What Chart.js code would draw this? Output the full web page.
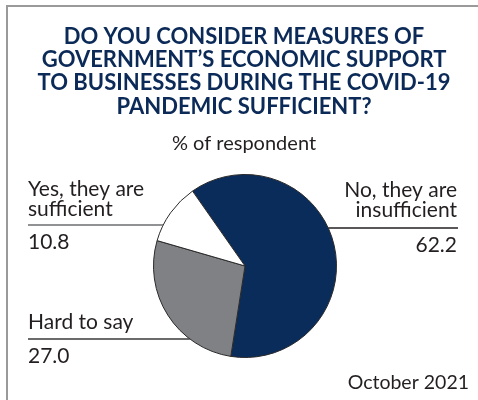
<!DOCTYPE html>
<html>
<head>
<meta charset="utf-8">
<script src="https://cdn.jsdelivr.net/npm/chart.js@4"></script>
<style>
  html, body { margin: 0; padding: 0; background: #ffffff; }
  #wrap { position: relative; width: 478px; height: 400px; }
</style>
</head>
<body>
<div id="wrap"><canvas id="c" width="478" height="400"></canvas></div>
<script>
// ---- Data ----
const categories = ["No, they are insufficient", "Hard to say", "Yes, they are sufficient"];
const values = [62.2, 27.0, 10.8];
const labelLines = [["No, they are", "insufficient"], ["Hard to say"], ["Yes, they are", "sufficient"]];
const valueLabels = ["62.2", "27.0", "10.8"];
const titleLines = ["DO YOU CONSIDER MEASURES OF", "GOVERNMENT\u2019S ECONOMIC SUPPORT", "TO BUSINESSES DURING THE COVID-19", "PANDEMIC SUFFICIENT?"];
const subtitleText = "% of respondent";
const footnoteText = "October 2021";

const colors = ["#0a2c5b", "#808184", "#ffffff"];
const TEXT = "#231f20";
const NAVY = "#0b2a57";

// label placement: side, baseline of first line, y of leader line, baseline of value
const labelLayout = [
  { side: "right", x: 457, y0: 197, lineY: 228, vy: 252, line: "#231f20" },
  { side: "left",  x: 28,  y0: 329, lineY: 339, vy: 363, line: "#3a3a3a" },
  { side: "left",  x: 28,  y0: 196, lineY: 225, vy: 249, line: "#6d6e71" }
];

const decor = {
  id: "decor",
  afterDraw(chart) {
    const ctx = chart.ctx;
    ctx.save();
    // frame
    ctx.strokeStyle = "#9a9a9a";
    ctx.lineWidth = 2;
    ctx.beginPath();
    ctx.moveTo(7, 400);
    ctx.lineTo(7, 6);
    ctx.lineTo(478, 6);
    ctx.stroke();

    // title
    ctx.fillStyle = NAVY;
    ctx.textAlign = "center";
    ctx.textBaseline = "alphabetic";
    ctx.font = "bold 22px Lato";
    titleLines.forEach((t, i) => ctx.fillText(t, 244, 44 + i * 23.2));
    ctx.fillStyle = TEXT;
    ctx.font = "20px Lato";
    ctx.fillText(subtitleText, 244, 150);

    // labels with leader lines to the pie edge
    const arc = chart.getDatasetMeta(0).data[0];
    const cx = arc.x, cy = arc.y, r = arc.outerRadius;
    ctx.font = "21px Lato";
    labelLayout.forEach((L, i) => {
      ctx.fillStyle = TEXT;
      ctx.textAlign = L.side === "left" ? "left" : "right";
      labelLines[i].forEach((t, k) => ctx.fillText(t, L.x, L.y0 + k * 19.5));
      ctx.fillText(valueLabels[i], L.x, L.vy);
      const dy = L.lineY - cy;
      const dx = Math.sqrt(Math.max(r * r - dy * dy, 0));
      ctx.strokeStyle = L.line;
      ctx.lineWidth = 1.5;
      ctx.beginPath();
      if (L.side === "left") { ctx.moveTo(L.x, L.lineY); ctx.lineTo(cx - dx, L.lineY); }
      else { ctx.moveTo(cx + dx, L.lineY); ctx.lineTo(L.x + 1, L.lineY); }
      ctx.stroke();
    });

    // footnote
    ctx.textAlign = "right";
    ctx.font = "19.5px Lato";
    ctx.fillText(footnoteText, 469, 389);
    ctx.restore();
  }
};

new Chart(document.getElementById("c"), {
  type: "pie",
  data: {
    labels: categories,
    datasets: [{
      data: values,
      backgroundColor: colors,
      borderColor: "#2a2a2a",
      borderWidth: 1
    }]
  },
  options: {
    responsive: false,
    animation: false,
    rotation: -35,
    layout: { padding: { left: 153, right: 141, top: 174, bottom: 42 } },
    plugins: {
      legend: { display: false },
      tooltip: { enabled: false },
      title: { display: false }
    }
  },
  plugins: [decor]
});
</script>
</body>
</html>
